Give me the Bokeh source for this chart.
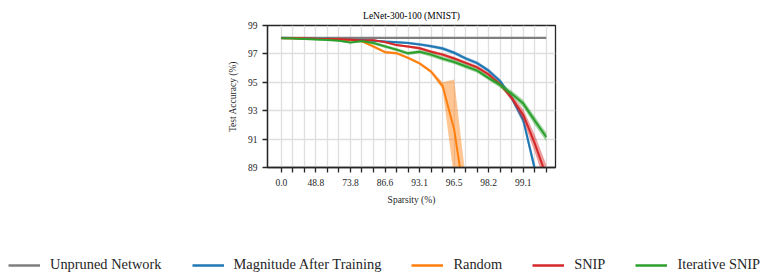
import numpy as np
from bokeh.plotting import figure
from bokeh.layouts import column
from bokeh.models import FixedTicker, Range1d, Legend, LegendItem, ColumnDataSource, Title
from bokeh.embed import file_html
from bokeh.resources import INLINE

# ---- data ----
sparsity_index = list(range(24))
tick_positions = [0, 3, 6, 9, 12, 15, 18, 21]
tick_labels = ["0.0", "48.8", "73.8", "86.6", "93.1", "96.5", "98.2", "99.1"]
y_ticks = [89, 91, 93, 95, 97, 99]

unpruned = [98.13] * 24

magnitude = [98.13, 98.12, 98.10, 98.08, 98.06, 98.04, 98.00, 97.98, 97.93, 97.87,
             97.82, 97.77, 97.67, 97.54, 97.38, 97.08, 96.68, 96.35, 95.82, 95.08,
             93.90, 92.35, 88.90, 85.50]
magnitude_std = [0.05, 0.05, 0.05, 0.05, 0.05, 0.05, 0.06, 0.06, 0.07, 0.08,
                 0.08, 0.08, 0.10, 0.10, 0.12, 0.12, 0.12, 0.13, 0.14, 0.15,
                 0.20, 0.30, 0.40, 0.50]

random_ = [98.12, 98.10, 98.08, 98.07, 98.05, 98.02, 97.98, 97.88, 97.52, 97.12,
           97.05, 96.72, 96.33, 95.75, 94.75, 91.70, 86.30, np.nan, np.nan, np.nan,
           np.nan, np.nan, np.nan, np.nan]
random_std = [0.05, 0.05, 0.05, 0.05, 0.05, 0.05, 0.06, 0.06, 0.08, 0.10,
              0.10, 0.10, 0.10, 0.12, 0.25, 3.50, 2.00, np.nan, np.nan, np.nan,
              np.nan, np.nan, np.nan, np.nan]

snip = [98.10, 98.10, 98.08, 98.06, 98.05, 98.03, 98.00, 97.95, 97.97, 97.83,
        97.62, 97.52, 97.40, 97.15, 96.95, 96.68, 96.37, 96.05, 95.55, 94.85,
        93.90, 92.70, 90.70, 88.40]
snip_std = [0.05, 0.05, 0.05, 0.05, 0.05, 0.05, 0.06, 0.06, 0.07, 0.08,
            0.08, 0.08, 0.10, 0.10, 0.12, 0.12, 0.12, 0.13, 0.14, 0.15,
            0.20, 0.40, 0.60, 0.80]

iterative = [98.10, 98.08, 98.05, 98.02, 97.98, 97.93, 97.80, 97.90, 97.77, 97.53,
             97.30, 97.04, 97.15, 96.95, 96.67, 96.43, 96.13, 95.82, 95.30, 94.80,
             94.20, 93.50, 92.30, 91.15]
iterative_std = [0.05, 0.05, 0.05, 0.05, 0.05, 0.06, 0.07, 0.08, 0.10, 0.12,
                 0.12, 0.12, 0.13, 0.15, 0.15, 0.15, 0.15, 0.15, 0.15, 0.18,
                 0.20, 0.25, 0.30, 0.30]

series = [
    ("Magnitude After Training", magnitude, magnitude_std, "#1f77b4"),
    ("Random", random_, random_std, "#ff7f0e"),
    ("SNIP", snip, snip_std, "#d62728"),
    ("Iterative SNIP", iterative, iterative_std, "#2ca02c"),
]
unpruned_label = "Unpruned Network"
unpruned_color = "#7f7f7f"
title_text = "LeNet-300-100 (MNIST)"

SERIF = "Liberation Serif"
DARK = "#262626"

p = figure(width=767, height=225,
           x_range=Range1d(-1.2, 23.8), y_range=Range1d(89, 99),
           output_backend="svg", toolbar_location=None,
           min_border_left=267, min_border_right=212,
           min_border_top=25, min_border_bottom=58)
p.frame_align = False

# small spacer between frame and title, then the title itself
p.add_layout(Title(text=" ", text_font_size="3px", standoff=0), "above")
p.add_layout(Title(text=title_text, align="center", text_font=SERIF,
                   text_font_size="9.5px", text_font_style="normal",
                   text_color="black", standoff=0), "above")

p.outline_line_color = DARK
p.outline_line_width = 1.3
p.background_fill_color = "white"
p.border_fill_color = "white"

# axes
overrides = {i: "" for i in sparsity_index}
for pos, lab in zip(tick_positions, tick_labels):
    overrides[pos] = lab
p.xaxis.ticker = FixedTicker(ticks=sparsity_index)
p.xaxis.major_label_overrides = overrides
p.yaxis.ticker = FixedTicker(ticks=y_ticks)

for ax in (p.xaxis[0], p.yaxis[0]):
    ax.axis_line_color = DARK
    ax.axis_line_width = 1.3
    ax.major_tick_line_color = DARK
    ax.major_tick_line_width = 1.3
    ax.major_tick_out = 5
    ax.major_tick_in = 0
    ax.minor_tick_out = 0
    ax.minor_tick_in = 0
    ax.major_label_text_font = SERIF
    ax.major_label_text_font_size = "9.5px"
    ax.major_label_text_color = DARK
    ax.axis_label_text_font = SERIF
    ax.axis_label_text_font_size = "9.5px"
    ax.axis_label_text_font_style = "normal"
    ax.axis_label_text_color = DARK

p.xaxis.axis_label = "Sparsity (%)"
p.yaxis.axis_label = "Test Accuracy (%)"
p.xaxis.major_label_standoff = 6
p.yaxis.major_label_standoff = 5
p.xaxis.axis_label_standoff = 6
p.yaxis.axis_label_standoff = 7

p.grid.grid_line_color = "#dedede"
p.grid.grid_line_width = 1.3

# bands & lines
p.line(sparsity_index, unpruned, line_color=unpruned_color, line_width=2.4)
for name, mean, std, color in series:
    m = np.array(mean, dtype=float)
    s = np.array(std, dtype=float)
    src = ColumnDataSource(dict(x=sparsity_index, y=m, lo=m - s, hi=m + s))
    p.varea(x="x", y1="lo", y2="hi", source=src, fill_color=color, fill_alpha=0.45)
    p.line(x="x", y="y", source=src, line_color=color, line_width=2.0)

# legend strip (separate figure below the chart)
lg = figure(width=767, height=48, x_range=Range1d(0, 1), y_range=Range1d(0, 1),
            output_backend="svg", toolbar_location=None,
            x_axis_location=None, y_axis_location=None,
            min_border_left=0, min_border_right=0, min_border_top=0, min_border_bottom=0)
lg.frame_align = False
lg.outline_line_color = None
lg.grid.visible = False
lg.background_fill_color = "white"
lg.border_fill_color = "white"

items = []
names = [unpruned_label] + [s[0] for s in series]
colors = [unpruned_color] + [s[3] for s in series]
for name, color in zip(names, colors):
    r = lg.line(x=[np.nan], y=[np.nan], line_color=color, line_width=2.5)
    items.append(LegendItem(label=name, renderers=[r]))

legend = Legend(items=items, orientation="horizontal", location=(8, 0),
                label_text_font=SERIF, label_text_font_size="14.4px",
                label_text_color=DARK, glyph_width=32, glyph_height=16,
                label_height=16, label_standoff=10, spacing=30,
                padding=0, margin=0, border_line_color=None,
                background_fill_alpha=0)
lg.add_layout(legend, "center")

layout = column(p, lg, spacing=0)
open("out.html", "w").write(file_html(layout, INLINE))
